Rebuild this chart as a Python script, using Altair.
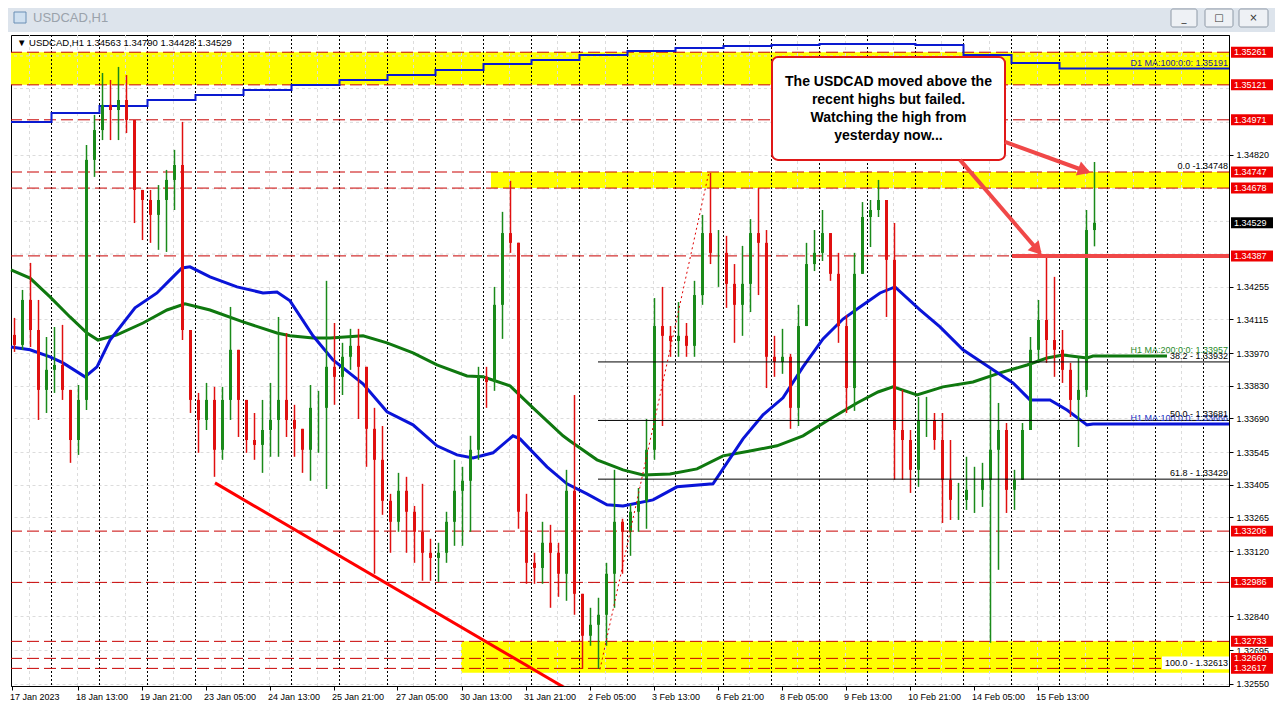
import altair as alt
import pandas as pd

FONT = "Liberation Sans"
W, HGT = 1218, 651
H_MIN, H_MAX = 3.75, 612.75          # hourly bar index (trading hours from 17 Jan 2023 00:00)
P_MIN, P_MAX = 1.325414, 1.353349

GREEN = "#1a8a1a"
RED = "#e01010"
DASH_RED = "#c80000"
ARROW_RED = "#f04848"

# ---------------- axis ticks ----------------
x_tick_hours = [4, 37, 69, 101, 133, 165, 197, 229, 261, 293, 325, 357, 389, 421, 453, 485, 517]
x_tick_labels = ["17 Jan 2023", "18 Jan 13:00", "19 Jan 21:00", "23 Jan 05:00", "24 Jan 13:00",
                 "25 Jan 21:00", "27 Jan 05:00", "30 Jan 13:00", "31 Jan 21:00", "2 Feb 05:00",
                 "3 Feb 13:00", "6 Feb 21:00", "8 Feb 05:00", "9 Feb 13:00", "10 Feb 21:00",
                 "14 Feb 05:00", "15 Feb 13:00"]
y_ticks = [1.32550, 1.32695, 1.32840, 1.33120, 1.33265, 1.33405, 1.33545, 1.33690,
           1.33830, 1.33970, 1.34115, 1.34255, 1.34820]
day_separators = [24, 48, 72, 96, 120, 144, 168, 192, 216, 240, 264, 288, 312, 336, 360, 384,
                  408, 432, 456, 480, 504, 528, 552, 576, 600]
grid_vertical = [13, 37, 61, 85, 109, 133, 157, 181, 205, 229, 253, 277, 301, 325, 349, 373, 397,
                 421, 445, 469, 493, 517, 541, 565, 589]
grid_horizontal = [1.32985, 1.34395, 1.34535, 1.34675, 1.34960, 1.35105, 1.35245]

# ---------------- price data (4-hour candles) ----------------
first_open = 1.34048
highs = [1.34121, 1.34241, 1.34357, 1.34198, 1.34039, 1.34082, 1.34091, 1.33799, 1.33833, 1.34863,
         1.34992, 1.35172, 1.35142, 1.35198, 1.35163, 1.34962, 1.34670, 1.34670, 1.34691, 1.34756,
         1.34842, 1.34962, 1.34069, 1.33799, 1.33842, 1.33825, 1.33825, 1.34168, 1.33941, 1.33769,
         1.33713, 1.33769, 1.33842, 1.34125, 1.34056, 1.33748, 1.33632, 1.33833, 1.33808, 1.34280,
         1.34099, 1.34014, 1.34074, 1.34074, 1.33846, 1.33735, 1.33657, 1.33366, 1.33456, 1.33439,
         1.33314, 1.33409, 1.33173, 1.33156, 1.33289, 1.33512, 1.33482, 1.33615, 1.33911, 1.33911,
         1.34254, 1.34576, 1.34709, 1.34206, 1.33366, 1.33113, 1.33246, 1.33233, 1.33156, 1.33469,
         1.33790, 1.32920, 1.32877, 1.32920, 1.33070, 1.33469, 1.33259, 1.33323, 1.33391, 1.33687,
         1.34206, 1.34254, 1.34086, 1.34189, 1.34099, 1.34280, 1.34563, 1.34743, 1.34498, 1.34473,
         1.34352, 1.34430, 1.34545, 1.34678, 1.34498, 1.34044, 1.34074, 1.33966, 1.34177, 1.34443,
         1.34498, 1.34584, 1.34485, 1.34400, 1.34134, 1.34400, 1.34618, 1.34627, 1.34713, 1.34554,
         1.34528, 1.33812, 1.33640, 1.33782, 1.33782, 1.33713, 1.33713, 1.33597, 1.33413, 1.33525,
         1.33482, 1.33499, 1.33898, 1.33756, 1.33670, 1.33469, 1.33670, 1.34039, 1.34198, 1.34383,
         1.34297, 1.34069, 1.33928, 1.33954, 1.34584, 1.34790]
lows = [1.33975, 1.33984, 1.33996, 1.33683, 1.33713, 1.33799, 1.33769, 1.33499, 1.33533, 1.33726,
        1.34726, 1.34884, 1.34884, 1.34884, 1.34914, 1.34528, 1.34455, 1.34443, 1.34413, 1.34404,
        1.34584, 1.34026, 1.33713, 1.33542, 1.33640, 1.33439, 1.33512, 1.33683, 1.33610, 1.33542,
        1.33512, 1.33456, 1.33525, 1.33525, 1.33610, 1.33525, 1.33456, 1.33422, 1.33542, 1.33387,
        1.33748, 1.33790, 1.33898, 1.33687, 1.33482, 1.33023, 1.33276, 1.33113, 1.33203, 1.33113,
        1.33070, 1.32993, 1.32993, 1.32988, 1.33070, 1.33143, 1.33143, 1.33203, 1.33512, 1.33735,
        1.33808, 1.34031, 1.34400, 1.33216, 1.32980, 1.32980, 1.32980, 1.32877, 1.32924, 1.32907,
        1.32847, 1.32615, 1.32714, 1.32615, 1.32714, 1.32877, 1.33023, 1.33100, 1.33203, 1.33216,
        1.33512, 1.33657, 1.33954, 1.33954, 1.33954, 1.33954, 1.34177, 1.34352, 1.34254, 1.34164,
        1.34014, 1.34044, 1.34146, 1.34219, 1.33820, 1.33868, 1.33881, 1.33645, 1.33657, 1.34219,
        1.34322, 1.34365, 1.34280, 1.34014, 1.33713, 1.33722, 1.34400, 1.34425, 1.34554, 1.34125,
        1.33426, 1.33426, 1.33370, 1.33396, 1.33610, 1.33555, 1.33241, 1.33254, 1.33254, 1.33297,
        1.33284, 1.33310, 1.32727, 1.33040, 1.33284, 1.33297, 1.33469, 1.33653, 1.33928, 1.33928,
        1.33868, 1.33842, 1.33696, 1.33567, 1.33782, 1.34428]
closes = [1.34005, 1.34198, 1.34069, 1.33812, 1.33898, 1.33919, 1.33812, 1.33597, 1.33769, 1.34799,
          1.34927, 1.35035, 1.35013, 1.35056, 1.34970, 1.34670, 1.34627, 1.34563, 1.34627, 1.34713,
          1.34777, 1.34069, 1.33769, 1.33683, 1.33769, 1.33555, 1.33769, 1.33984, 1.33769, 1.33597,
          1.33576, 1.33640, 1.33683, 1.33769, 1.33683, 1.33645, 1.33555, 1.33735, 1.33735, 1.33911,
          1.33868, 1.33954, 1.34001, 1.33911, 1.33645, 1.33512, 1.33336, 1.33246, 1.33379, 1.33289,
          1.33203, 1.33113, 1.33091, 1.33113, 1.33246, 1.33379, 1.33422, 1.33555, 1.33868, 1.33846,
          1.34177, 1.34485, 1.34443, 1.33289, 1.33070, 1.33048, 1.33156, 1.33113, 1.33023, 1.33379,
          1.32937, 1.32757, 1.32804, 1.32847, 1.33023, 1.33246, 1.33203, 1.33289, 1.33336, 1.33555,
          1.34086, 1.34044, 1.34022, 1.34044, 1.34001, 1.34219, 1.34485, 1.34400, 1.34400, 1.34267,
          1.34177, 1.34267, 1.34485, 1.34443, 1.33954, 1.33932, 1.33954, 1.33735, 1.34086, 1.34352,
          1.34400, 1.34485, 1.34310, 1.34086, 1.33820, 1.34310, 1.34554, 1.34584, 1.34627, 1.34370,
          1.33640, 1.33597, 1.33469, 1.33683, 1.33683, 1.33597, 1.33426, 1.33340, 1.33340, 1.33383,
          1.33383, 1.33426, 1.33555, 1.33640, 1.33383, 1.33426, 1.33640, 1.33984, 1.34112, 1.34026,
          1.33984, 1.33898, 1.33769, 1.33812, 1.34498, 1.34529]

# ---------------- indicator lines ----------------
ma100_h = [3.75, 13.25, 23.25, 29.75, 40.75, 46.75, 53.25, 65.75, 76.75, 83.25, 89.25, 93.25,
           103.25, 116.75, 129.75, 136.75, 143.25, 154.75, 164.75, 179.75, 191.75, 204.75, 216.75,
           226.75, 234.75, 244.75, 254.75, 258.25, 271.75, 281.75, 291.75, 301.75, 309.75, 324.75,
           336.75, 354.75, 361.75, 369.75, 379.75, 389.75, 399.75, 409.75, 419.75, 428.25, 438.25,
           445.75, 458.25, 468.25, 479.75, 494.75, 504.75, 513.25, 523.25, 531.75, 541.75, 544.75]
ma100_v = [1.33996, 1.33984, 1.33954, 1.33928, 1.33868, 1.33911, 1.34026, 1.34164, 1.34228,
           1.34284, 1.34335, 1.34340, 1.34297, 1.34254, 1.34228, 1.34232, 1.34194, 1.34044,
           1.33941, 1.33838, 1.33718, 1.33662, 1.33572, 1.33533, 1.33520, 1.33542, 1.33615,
           1.33602, 1.33482, 1.33409, 1.33366, 1.33319, 1.33314, 1.33340, 1.33396, 1.33409,
           1.33499, 1.33602, 1.33705, 1.33778, 1.33911, 1.34031, 1.34116, 1.34168, 1.34228,
           1.34254, 1.34155, 1.34082, 1.33984, 1.33898, 1.33842, 1.33769, 1.33769, 1.33726,
           1.33662, 1.33666]
ma200_h = [3.75, 13.25, 23.25, 33.25, 41.75, 47.25, 56.75, 69.75, 81.75, 90.75, 103.25, 119.75,
           136.75, 143.25, 154.75, 163.25, 179.75, 191.75, 204.75, 216.75, 231.75, 239.75, 253.25,
           264.75, 279.75, 283.25, 296.75, 309.75, 319.75, 333.25, 346.75, 359.75, 373.25, 386.75,
           399.75, 413.25, 426.75, 437.25, 444.75, 456.75, 469.75, 484.75, 498.25, 511.75, 521.75,
           529.75, 541.75, 544.75]
ma200_v = [1.34327, 1.34292, 1.34211, 1.34125, 1.34056, 1.34026, 1.34048, 1.34099, 1.34155,
           1.34181, 1.34155, 1.34104, 1.34056, 1.34044, 1.34035, 1.34035, 1.34044, 1.34014,
           1.33971, 1.33919, 1.33872, 1.33868, 1.33829, 1.33735, 1.33615, 1.33593, 1.33512,
           1.33469, 1.33447, 1.33451, 1.33473, 1.33529, 1.33550, 1.33572, 1.33615, 1.33687,
           1.33756, 1.33803, 1.33825, 1.33790, 1.33825, 1.33846, 1.33885, 1.33919, 1.33949,
           1.33962, 1.33949, 1.33957]
d1ma_h = [3.75, 24, 48, 72, 96, 120, 144, 168, 192, 216, 240, 264, 288, 312, 336, 360, 384, 408,
          432, 456, 480, 504, 528, 612.75]
d1ma_v = [1.34962, 1.35000, 1.35030, 1.35056, 1.35077, 1.35099, 1.35120, 1.35142, 1.35163,
          1.35185, 1.35210, 1.35228, 1.35249, 1.35266, 1.35279, 1.35288, 1.35292, 1.35296,
          1.35296, 1.35292, 1.35249, 1.35215, 1.35191, 1.35191]

# ---------------- drawn levels / objects ----------------
level_lines = [1.35261, 1.35121, 1.34971, 1.34747, 1.34678, 1.33206, 1.32986, 1.32733, 1.32660, 1.32617]
level_high_yday = 1.34387
band_x0 = [3.75, 243.75, 228.75]
band_lo = [1.35121, 1.34678, 1.32598]
band_hi = [1.35261, 1.34747, 1.32733]
fib_levels = [1.33932, 1.33681, 1.33429]
fib_start_h = 297.25
fib_trend_h = [298.25, 352.75]
fib_trend_p = [1.32613, 1.34748]
trend_h = [105.75, 285.75]
trend_p = [1.33413, 1.32508]
tag_prices = [1.35261, 1.35121, 1.34971, 1.34747, 1.34678, 1.34387, 1.33206, 1.32986, 1.32733,
              1.32660, 1.32617]
current_price = 1.34529

# ---------------- build tables ----------------
rows = []
prev = first_open
for i, (hi, lo, cl) in enumerate(zip(highs, lows, closes, strict=True)):
    o = prev
    rows.append(dict(h=4 * (i + 1) + 1.5, open=o, close=cl, high=max(hi, o, cl),
                     low=min(lo, o, cl), dir="up" if cl >= o else "down"))
    prev = cl
candles = pd.DataFrame(rows)

xs = alt.Scale(domain=[H_MIN, H_MAX], nice=False, zero=False)
ys = alt.Scale(domain=[P_MIN, P_MAX], nice=False, zero=False)
label_expr = "[" + ",".join("'%s'" % t for t in x_tick_labels) + "][indexof([" + \
    ",".join(str(v) for v in x_tick_hours) + "], datum.value)]"
X_AX = alt.Axis(values=x_tick_hours, labelExpr=label_expr, title=None, grid=False, tickSize=4,
                tickColor="black", domainColor="black", labelFont=FONT, labelFontSize=9,
                labelColor="black", labelAlign="left", labelOffset=-2, labelPadding=2,
                labelOverlap=False, labelFlush=False)
Y_AX = alt.Axis(values=y_ticks, format=".5f", orient="right", title=None, grid=True,
                gridColor="#dcdcdc", gridDash=[3, 3], tickSize=4, tickColor="black",
                domainColor="black", labelFont=FONT, labelFontSize=9, labelColor="black",
                labelPadding=3, labelOverlap=False, labelFlush=False)


def X(f):
    return alt.X(f, type="quantitative", scale=xs, axis=X_AX)


def Y(f):
    return alt.Y(f, type="quantitative", scale=ys, axis=Y_AX)


layers = []

# window title bar (decoration)
layers.append(alt.Chart(pd.DataFrame({"a": [0]})).mark_rect(color="#dde4ec").encode(
    x=alt.value(-3), x2=alt.value(1266), y=alt.value(-27), y2=alt.value(-3)))
layers.append(alt.Chart(pd.DataFrame({"t": ["USDCAD,H1"]})).mark_text(
    align="left", baseline="middle", font=FONT, fontSize=13, color="#9aa2ab").encode(
    x=alt.value(22), y=alt.value(-17), text="t:N"))
layers.append(alt.Chart(pd.DataFrame({"a": [0]})).mark_rect(
    fill="#cfe0f0", stroke="#6b8fb5", strokeWidth=1).encode(
    x=alt.value(3), x2=alt.value(15), y=alt.value(-23), y2=alt.value(-12)))
btn = pd.DataFrame({"x0": [1160, 1194, 1228], "x1": [1186, 1222, 1257], "g": ["_", "□", "×"]})
layers.append(alt.Chart(btn).mark_rect(fill="#eef1f5", stroke="#8e99a6", strokeWidth=1,
                                       cornerRadius=2).encode(
    x=alt.X("x0:Q", scale=None, axis=None), x2="x1:Q", y=alt.value(-26), y2=alt.value(-8)))
layers.append(alt.Chart(btn).transform_calculate(xm="(datum.x0+datum.x1)/2").mark_text(
    font="DejaVu Sans", fontSize=10, color="#333333", baseline="middle").encode(
    x=alt.X("xm:Q", scale=None, axis=None), y=alt.value(-17), text="g:N"))

# yellow zones
bands = pd.DataFrame({"x0": band_x0, "x1": [H_MAX] * 3, "p0": band_lo, "p1": band_hi})
layers.append(alt.Chart(bands).mark_rect(color="#ffff00").encode(
    x=X("x0"), x2="x1", y=Y("p0"), y2="p1"))

# faint grid and daily separators
layers.append(alt.Chart(pd.DataFrame({"h": grid_vertical})).mark_rule(
    color="#dcdcdc", strokeDash=[3, 3], strokeWidth=1).encode(x=X("h")))
layers.append(alt.Chart(pd.DataFrame({"p": grid_horizontal})).mark_rule(
    color="#dcdcdc", strokeDash=[3, 3], strokeWidth=1).encode(y=Y("p")))
layers.append(alt.Chart(pd.DataFrame({"h": day_separators})).mark_rule(
    color="black", strokeDash=[2, 2], strokeWidth=1).encode(x=X("h")))

# red dashed horizontal levels
layers.append(alt.Chart(pd.DataFrame({"p": level_lines})).mark_rule(
    color=DASH_RED, strokeDash=[12, 5], strokeWidth=1).encode(y=Y("p")))
layers.append(alt.Chart(pd.DataFrame({"x0": [H_MIN], "x1": [504.25], "p": [level_high_yday]})).mark_rule(
    color=DASH_RED, strokeDash=[12, 5], strokeWidth=1).encode(x=X("x0"), x2="x1", y=Y("p")))

# moving averages
layers.append(alt.Chart(pd.DataFrame({"h": d1ma_h, "v": d1ma_v})).mark_line(
    color="#0a1ad0", strokeWidth=2, interpolate="step-after").encode(x=X("h"), y=Y("v")))
layers.append(alt.Chart(pd.DataFrame({"h": ma200_h + [581.75], "v": ma200_v + [1.33957]})).mark_line(
    color="#0f780f", strokeWidth=3).encode(x=X("h"), y=Y("v")))
layers.append(alt.Chart(pd.DataFrame({"h": ma100_h + [H_MAX], "v": ma100_v + [1.33666]})).mark_line(
    color="#0a14d8", strokeWidth=3).encode(x=X("h"), y=Y("v")))

# candles
cscale = alt.Scale(domain=["up", "down"], range=[GREEN, RED])
layers.append(alt.Chart(candles).mark_rule(strokeWidth=1.5).encode(
    x=X("h"), y=Y("low"), y2="high", color=alt.Color("dir:N", scale=cscale, legend=None)))
layers.append(alt.Chart(candles).mark_rule(strokeWidth=3).encode(
    x=X("h"), y=Y("open"), y2="close", color=alt.Color("dir:N", scale=cscale, legend=None)))

# fibonacci retracement
layers.append(alt.Chart(pd.DataFrame({"x0": [fib_start_h] * 3, "x1": [H_MAX] * 3, "p": fib_levels})).mark_rule(
    color="black", strokeWidth=1).encode(x=X("x0"), x2="x1", y=Y("p")))
layers.append(alt.Chart(pd.DataFrame({"h": fib_trend_h, "p": fib_trend_p})).mark_line(
    color="#e00000", strokeDash=[2, 3], strokeWidth=1).encode(x=X("h"), y=Y("p")))

# red trend line
layers.append(alt.Chart(pd.DataFrame({"h": trend_h, "p": trend_p})).mark_line(
    color="#ff0000", strokeWidth=3, clip=True).encode(x=X("h"), y=Y("p")))

# thick line at yesterday's high
layers.append(alt.Chart(pd.DataFrame({"x0": [504.25], "x1": [H_MAX], "p": [level_high_yday]})).mark_rule(
    color=ARROW_RED, strokeWidth=4).encode(x=X("x0"), x2="x1", y=Y("p")))

# annotation box and text
layers.append(alt.Chart(pd.DataFrame({"x0": [384.25], "x1": [500.75], "p0": [1.34799], "p1": [1.35240]})).mark_rect(
    fill="white", stroke="#e01818", strokeWidth=2, cornerRadius=6).encode(
    x=X("x0"), x2="x1", y=Y("p0"), y2="p1"))
note = pd.DataFrame({"h": [442.5] * 4, "p": [1.35135, 1.35056, 1.34979, 1.34902],
                     "t": ["The USDCAD moved above the", "recent highs but failed.",
                           "Watching the high from", "yesterday now..."]})
layers.append(alt.Chart(note).mark_text(font=FONT, fontSize=14, fontWeight="bold", color="black",
                                        baseline="middle").encode(x=X("h"), y=Y("p"), text="t:N"))

# arrows
arrows = pd.DataFrame({"id": [1, 1, 2, 2], "h": [500.75, 542.25, 478.25, 518.25],
                       "p": [1.34876, 1.34747, 1.34799, 1.34400]})
layers.append(alt.Chart(arrows).mark_line(color=ARROW_RED, strokeWidth=4).encode(
    x=X("h"), y=Y("p"), detail="id:N"))
heads = pd.DataFrame({"h": [539.45, 516.25], "p": [1.34756, 1.34419], "ang": [110, 138]})
layers.append(alt.Chart(heads).mark_point(shape="triangle", filled=True, size=220, opacity=1,
                                          color=ARROW_RED).encode(
    x=X("h"), y=Y("p"), angle=alt.Angle("ang:Q", scale=None)))

# labels on the right side of the plot
right_txt = pd.DataFrame({
    "p": [1.35191, 1.34748, 1.33957, 1.33932, 1.33666, 1.33681, 1.33429],
    "t": ["D1 MA:100:0:0: 1.35191", "0.0 -1.34748", "H1 MA:200:0:0: 1.33957", "38.2 - 1.33932",
          "H1 MA:100:0:0: 1.33666", "50.0 - 1.33681", "61.8 - 1.33429"],
    "c": ["#1a1aa0", "black", "#2a8a2a", "black", "#2030c0", "black", "black"]})
layers.append(alt.Chart(right_txt).mark_text(font=FONT, fontSize=9, align="right",
                                             baseline="bottom", dy=-1).encode(
    x=alt.value(W - 1), y=Y("p"), text="t:N", color=alt.Color("c:N", scale=None)))
layers.append(alt.Chart(pd.DataFrame({"p0": [1.32613], "p1": [1.32668]})).mark_rect(
    fill="white").encode(x=alt.value(W - 67), x2=alt.value(W), y=Y("p0"), y2="p1"))
layers.append(alt.Chart(pd.DataFrame({"p": [1.32613], "t": ["100.0 - 1.32613"]})).mark_text(
    font=FONT, fontSize=9, align="right", baseline="bottom", dy=-1, color="black").encode(
    x=alt.value(W - 1), y=Y("p"), text="t:N"))

# price tags on the axis
tags = pd.DataFrame({"p": tag_prices + [current_price],
                     "c": ["#ee0000"] * len(tag_prices) + ["black"]})
tags["t"] = tags["p"].map(lambda v: "%.5f" % v)
layers.append(alt.Chart(tags).transform_calculate(
    top="datum.p + 0.000235", bot="datum.p - 0.000235").mark_rect().encode(
    x=alt.value(W + 2), x2=alt.value(W + 44), y=Y("top"), y2="bot",
    color=alt.Color("c:N", scale=None)))
layers.append(alt.Chart(tags).mark_text(font=FONT, fontSize=9, align="left", baseline="middle",
                                        color="white").encode(
    x=alt.value(W + 5), y=Y("p"), text="t:N"))

# symbol line in the chart
layers.append(alt.Chart(pd.DataFrame({"t": ["▼ USDCAD,H1  1.34563 1.34790 1.34428 1.34529"]})).mark_text(
    font=FONT, fontSize=9.5, align="left", baseline="middle", color="black").encode(
    x=alt.value(6), y=alt.value(8), text="t:N"))

chart = alt.layer(*layers).properties(
    width=W, height=HGT,
    autosize=alt.AutoSizeParams(type="none"),
    padding={"left": 3, "top": 27, "right": 46, "bottom": 18},
    background="white",
).configure_view(stroke="black", strokeWidth=1, fill="white")

chart.save("out.html", embed_options={"renderer": "svg", "actions": False})
